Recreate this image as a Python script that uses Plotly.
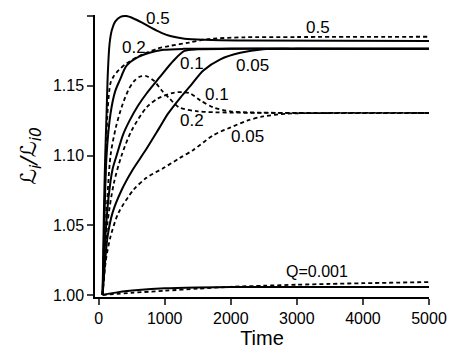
import plotly.graph_objects as go

# solid curves (t, L/L0)
t_s05 = [60, 80, 100, 120, 140, 165, 200, 250, 330, 420, 520, 650, 800, 950, 1100, 1300, 1600, 2200, 5000]
y_s05 = [1.0, 1.06, 1.10, 1.13, 1.16, 1.18, 1.19, 1.196, 1.1995, 1.2, 1.1985, 1.1955, 1.1915, 1.188, 1.1855, 1.1838, 1.183, 1.1825, 1.1822]

t_s02 = [60, 85, 120, 180, 250, 317, 423, 574, 770, 980, 1280, 5000]
y_s02 = [1.0, 1.05, 1.10, 1.13, 1.146, 1.1537, 1.1644, 1.170, 1.1737, 1.1758, 1.1765, 1.1765]

t_s01 = [60, 100, 150, 210, 272, 370, 468, 600, 725, 921, 1132, 1298, 1500, 2000, 5000]
y_s01 = [1.0, 1.04, 1.07, 1.09, 1.10, 1.115, 1.125, 1.136, 1.1445, 1.156, 1.168, 1.175, 1.1762, 1.1765, 1.1765]

t_s005 = [60, 100, 136, 211, 350, 513, 700, 921, 1050, 1238, 1389, 1585, 1842, 2144, 2491, 3000, 5000]
y_s005 = [1.0, 1.025, 1.042, 1.059, 1.0754, 1.0896, 1.103, 1.12, 1.13, 1.1416, 1.150, 1.161, 1.169, 1.1737, 1.1762, 1.1765, 1.1765]

t_s0001 = [60, 300, 600, 1000, 1500, 2000, 3000, 5000]
y_s0001 = [1.0, 1.002, 1.0035, 1.0047, 1.0053, 1.0056, 1.0057, 1.0057]

# dashed curves
t_d05 = [60, 85, 110, 140, 180, 230, 300, 420, 620, 880, 1070, 1370, 1650, 2200, 3000, 5000]
y_d05 = [1.0, 1.05, 1.10, 1.135, 1.152, 1.157, 1.161, 1.166, 1.1715, 1.1765, 1.1786, 1.181, 1.1835, 1.1848, 1.185, 1.1852]

t_d02 = [60, 110, 180, 260, 350, 450, 540, 620, 720, 840, 950, 1070, 1220, 1500, 2000, 5000]
y_d02 = [1.0, 1.05, 1.10, 1.12, 1.135, 1.147, 1.1535, 1.1565, 1.157, 1.1535, 1.147, 1.141, 1.1345, 1.1317, 1.1308, 1.1305]

t_d01 = [60, 130, 230, 347, 500, 725, 900, 1132, 1260, 1389, 1540, 1736, 1993, 2250, 3000, 5000]
y_d01 = [1.0, 1.05, 1.08, 1.10, 1.118, 1.1345, 1.141, 1.145, 1.1455, 1.1445, 1.1395, 1.1345, 1.1317, 1.131, 1.1305, 1.1305]

t_d005 = [60, 110, 181, 302, 528, 724, 980, 1221, 1433, 1734, 1990, 2247, 2488, 2850, 3500, 5000]
y_d005 = [1.0, 1.025, 1.042, 1.059, 1.0754, 1.084, 1.091, 1.098, 1.104, 1.1145, 1.120, 1.125, 1.128, 1.130, 1.1305, 1.1305]

t_d0001 = [60, 500, 1000, 1500, 2000, 2500, 3000, 3500, 4000, 5000]
y_d0001 = [1.0, 1.0015, 1.003, 1.0045, 1.0058, 1.0066, 1.0073, 1.0079, 1.0084, 1.0092]

x_ticks = [0, 1000, 2000, 3000, 4000, 5000]
y_ticks = [1.00, 1.05, 1.10, 1.15, 1.20]

solid = [(t_s05, y_s05), (t_s02, y_s02), (t_s01, y_s01), (t_s005, y_s005), (t_s0001, y_s0001)]
dashed = [(t_d05, y_d05), (t_d02, y_d02), (t_d01, y_d01), (t_d005, y_d005), (t_d0001, y_d0001)]

fig = go.Figure()
for t, y in dashed:
    fig.add_trace(go.Scatter(x=t, y=y, mode="lines", line_shape="spline",
                             line=dict(color="black", width=1.8, dash="4px,3px", smoothing=0.8)))
for t, y in solid:
    fig.add_trace(go.Scatter(x=t, y=y, mode="lines", line_shape="spline",
                             line=dict(color="black", width=2, smoothing=0.8)))

# curve labels
labels = [
    ("0.5", 891, 1.1986), ("0.5", 3322, 1.1915), ("0.2", 528, 1.1772),
    ("0.1", 1419, 1.1658), ("0.05", 2325, 1.1644), ("0.1", 1797, 1.1438),
    ("0.2", 1419, 1.1252), ("0.05", 2250, 1.1138),
]
for txt, x, y in labels:
    fig.add_annotation(x=x, y=y, text=txt, showarrow=False, font=dict(size=17, color="black"))
fig.add_annotation(x=3307, y=1.017, text="Q=0.001", showarrow=False, font=dict(size=16, color="black"))

# page body adds an 8px offset, so the figure is 8px smaller
fig.update_layout(
    width=449, height=350,
    margin=dict(l=87, r=28, t=7, b=61),
    paper_bgcolor="white", plot_bgcolor="white",
    showlegend=False,
    font=dict(family="Liberation Sans, Arial", color="black"),
)
fig.update_xaxes(range=[-55, 5000], tickvals=x_ticks, ticks="outside", ticklen=6, tickwidth=1.5,
                 showline=True, linecolor="black", linewidth=1.5, showgrid=False, zeroline=False,
                 automargin=False, tickfont=dict(size=16),
                 title=dict(text="Time", font=dict(size=20), standoff=2))
fig.update_yaxes(range=[0.9985, 1.2008], tickvals=y_ticks, tickformat=".2f", ticks="outside", ticklen=6,
                 tickwidth=1.5, showline=True, linecolor="black", linewidth=1.5, showgrid=False,
                 zeroline=False, automargin=False, tickfont=dict(size=16),
                 title=dict(text="<i>ℒ<sub>i</sub>/ℒ<sub>i0</sub></i>",
                            font=dict(size=22, family="DejaVu Sans"), standoff=10))

fig.write_html("out.html")
